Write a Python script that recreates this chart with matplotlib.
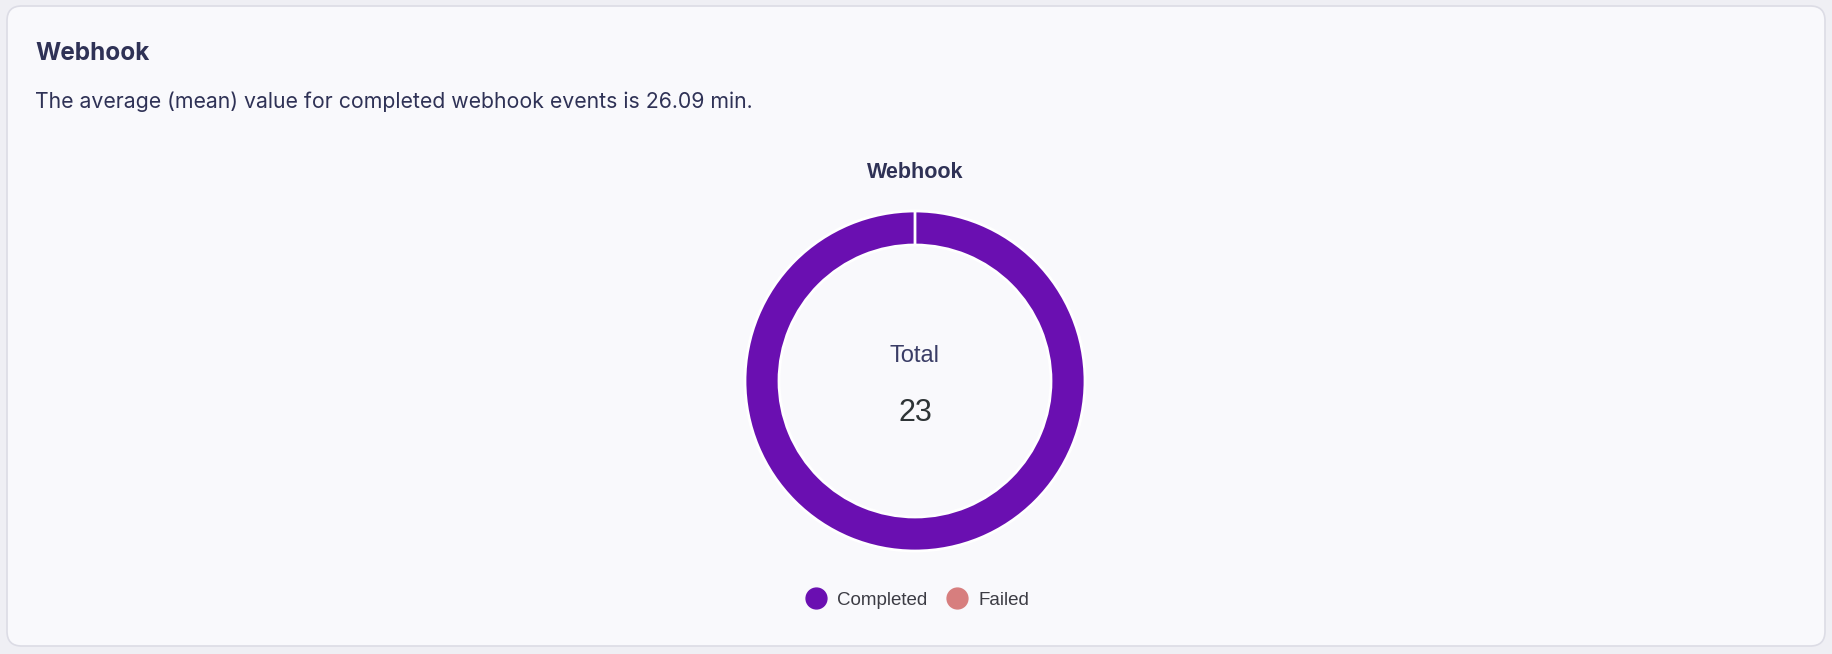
import matplotlib.pyplot as plt
from matplotlib.patches import FancyBboxPatch
from matplotlib.lines import Line2D

W, H = 1832, 654

labels = ['Completed', 'Failed']
counts = [23, 0]
colors = ['#6A0FB1', '#D77E7E']

title = 'Webhook'
subtitle = 'The average (mean) value for completed webhook events is 26.09 min.'

plt.rcParams['font.family'] = ['Inter', 'DejaVu Sans']
navy = '#2F3256'
chart_font = ['Liberation Sans', 'DejaVu Sans']


def fx(x):
	return x / W


def fy(y):
	return 1 - y / H


fig = plt.figure(figsize=(W / 100, H / 100), dpi=100)
fig.patch.set_facecolor('#EFEFF4')

# Card background (kept behind the donut axes)
card = FancyBboxPatch((fx(7), fy(646)), fx(1818), 640 / H,
		boxstyle='round,pad=0,rounding_size=0.008',
		transform=fig.transFigure, facecolor='#F9F9FC', edgecolor='#DCDCE5',
		linewidth=1.2, mutation_aspect=W / H, zorder=-10)
fig.patches.append(card)

fig.text(fx(35), fy(53), title, fontsize=17.5, fontweight='bold', color=navy, va='center')
fig.text(fx(35), fy(102), subtitle, fontsize=15.3, color=navy, va='center')

# Donut
cx, cy, r = 915, 381, 170
ax = fig.add_axes([fx(cx - r), fy(cy + r), 2 * r / W, 2 * r / H])
ax.pie(counts, colors=colors, startangle=90, counterclock=False,
	wedgeprops=dict(width=0.2, edgecolor='white', linewidth=2))
ax.set_xlim(-1, 1)
ax.set_ylim(-1, 1)
ax.set_aspect('equal')
ax.axis('off')

fig.text(fx(cx), fy(173), title, fontsize=15.5, fontweight='bold', color=navy,
	ha='center', va='center', family=chart_font)
fig.text(fx(cx), fy(356), 'Total', fontsize=17, color='#3A3D66',
	ha='center', va='center', family=chart_font)
fig.text(fx(cx), fy(413), str(sum(counts)), fontsize=22, color='#2E3436',
	ha='center', va='center', family=chart_font)

handles = [Line2D([], [], marker='o', linestyle='', markersize=15, markerfacecolor=c,
	markeredgecolor=c) for c in colors]
fig.legend(handles, labels, loc='center', bbox_to_anchor=(fx(cx), fy(600)), ncol=2,
	frameon=False, handletextpad=0.35, columnspacing=0.75, handlelength=1.6,
	labelcolor='#3C3C44', prop={'family': chart_font, 'size': 13.5})

fig.savefig('out.png', dpi=100, facecolor=fig.get_facecolor())
